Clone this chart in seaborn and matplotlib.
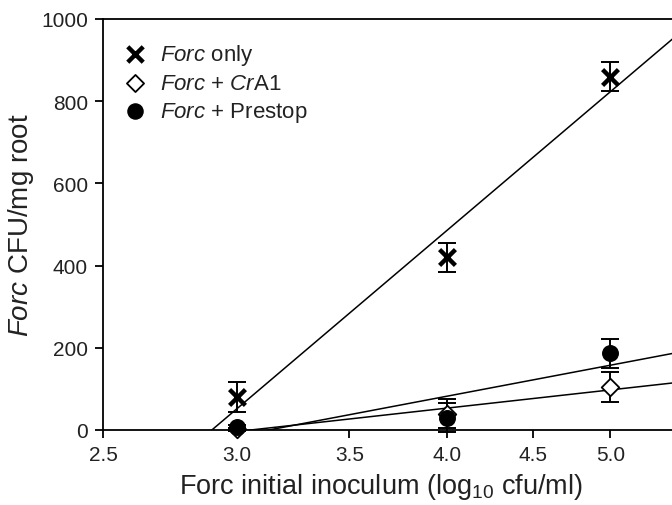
import numpy as np
import pandas as pd
import matplotlib
matplotlib.use("Agg")
import matplotlib.pyplot as plt
import seaborn as sns
from matplotlib.ticker import FixedLocator, FixedFormatter, NullLocator

# ---- data ----
inoculum = [3.0, 4.0, 5.0]
forc_only = [80, 420, 860]
forc_only_err = [37, 36, 36]
forc_cra1 = [2, 40, 105]
forc_cra1_err = [4, 35, 36]
forc_prestop = [8, 30, 187]
forc_prestop_err = [5, 35, 35]
series_labels = [r"$\mathit{Forc}$ only",
                 r"$\mathit{Forc}$ + $\mathit{Cr}$A1",
                 r"$\mathit{Forc}$ + Prestop"]
xticks = [2.5, 3.0, 3.5, 4.0, 4.5, 5.0]
yticks = [0, 200, 400, 600, 800, 1000]

sns.set_style("ticks")
plt.rcParams["font.family"] = ["Liberation Sans", "DejaVu Sans"]
plt.rcParams["mathtext.fontset"] = "custom"
plt.rcParams["mathtext.rm"] = "Liberation Sans"
plt.rcParams["mathtext.it"] = "Liberation Sans:italic"
plt.rcParams["mathtext.bf"] = "Liberation Sans:bold"

fig = plt.figure(figsize=(6.72, 5.06), dpi=100)
ax = fig.add_axes([103.3 / 672, 75 / 506, (680 - 103.3) / 672, 411 / 506])
ax.set_xscale("log")
ax.set_xlim(2.5, 5.5)
ax.set_ylim(0, 1000)

series = [
    (forc_only, forc_only_err, "x", dict(color="black", linewidth=3.2), 130),
    (forc_cra1, forc_cra1_err, "D", dict(color="white", edgecolor="black", linewidth=1.3), 80),
    (forc_prestop, forc_prestop_err, "o", dict(color="black", edgecolor="black", linewidth=1), 125),
]

xgrid = np.geomspace(2.5, 5.5, 50)
handles = []
for (vals, errs, mk, kw, s), lab in zip(series, series_labels):
    # regression of y on log10(x)
    slope, icpt = np.polyfit(np.log10(inoculum), vals, 1)
    fit = pd.DataFrame({"x": xgrid, "y": slope * np.log10(xgrid) + icpt})
    sns.lineplot(data=fit, x="x", y="y", ax=ax, color="black", linewidth=1.1,
                 zorder=2, legend=False)
    ax.errorbar(inoculum, vals, yerr=errs, fmt="none", ecolor="black",
                elinewidth=1.4, capsize=6.5, capthick=1.4, zorder=3, clip_on=False)
    df = pd.DataFrame({"x": inoculum, "y": vals})
    sns.scatterplot(data=df, x="x", y="y", ax=ax, marker=mk, s=s, zorder=4,
                    legend=False, clip_on=False, **kw)
    handles.append(ax.scatter([], [], marker=mk, s=s * 0.95, **kw))

ax.xaxis.set_major_locator(FixedLocator(xticks))
ax.xaxis.set_major_formatter(FixedFormatter([f"{t:.1f}" for t in xticks]))
ax.xaxis.set_minor_locator(NullLocator())
ax.set_yticks(yticks)
ax.set_yticklabels([str(t) for t in yticks])

ax.tick_params(axis="both", direction="out", length=6, width=1.3,
               labelsize=15, pad=5, color="black", labelcolor="#222222")
for side in ["left", "bottom", "top"]:
    ax.spines[side].set_linewidth(1.3)
    ax.spines[side].set_color("black")
ax.spines["top"].set_visible(True)
ax.spines["right"].set_visible(False)

ax.set_xlabel(r"Forc initial inoculum (log$_{10}$ cfu/ml)", fontsize=19.5, labelpad=4,
              color="#222222")
ax.xaxis.set_label_coords(0.482, -0.099)
ax.set_ylabel(r"$\mathit{Forc}$ CFU/mg root", fontsize=20, labelpad=4, color="#222222")

leg = ax.legend(handles, series_labels, loc="upper left", frameon=False,
                fontsize=16, bbox_to_anchor=(-0.008, 0.993), handletextpad=0.35,
                labelspacing=0.27, borderaxespad=0.5, handlelength=1.5)
for t in leg.get_texts():
    t.set_color("#222222")

fig.savefig("out.png", dpi=100)
